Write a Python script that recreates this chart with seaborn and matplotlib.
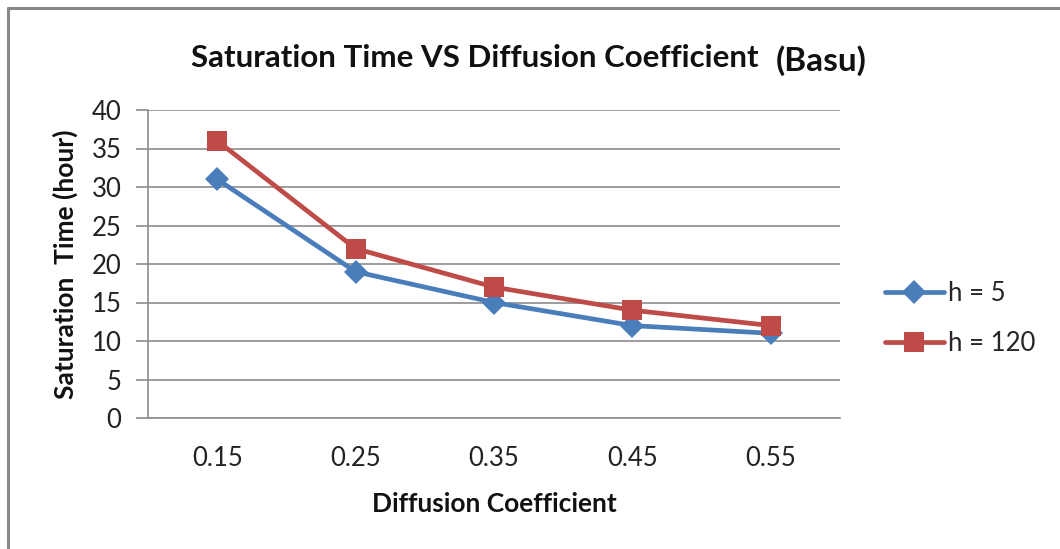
import matplotlib
matplotlib.use("Agg")
import matplotlib.pyplot as plt
import seaborn as sns
import pandas as pd
from matplotlib.lines import Line2D

categories = ["0.15", "0.25", "0.35", "0.45", "0.55"]
h5 = [31, 19, 15, 12, 11]
h120 = [36, 22, 17, 14, 12]
series_names = ["h = 5", "h = 120"]
y_ticks = [0, 5, 10, 15, 20, 25, 30, 35, 40]

sns.set_theme(style="white")
plt.rcParams['font.family'] = ['Lato', 'DejaVu Sans']

df = pd.DataFrame({
    "pos": list(range(len(categories))) * 2,
    "value": h5 + h120,
    "series": [series_names[0]] * len(h5) + [series_names[1]] * len(h120),
})

fig = plt.figure(figsize=(10.6, 5.49), dpi=100)
ax = fig.add_axes([148/1060, 1-418/549, (840-148)/1060, (418-110)/549])

colors = {"h = 5": "#4A7EBB", "h = 120": "#BE4B48"}
markers = {"h = 5": "D", "h = 120": "s"}
sizes = {"h = 5": 12, "h = 120": 15}

for name in series_names:
    sub = df[df.series == name]
    sns.lineplot(data=sub, x="pos", y="value", ax=ax, color=colors[name],
                 marker=markers[name], markersize=sizes[name], markeredgewidth=0,
                 linewidth=3.4, label=name, legend=False, zorder=3)

ax.set_xlim(-0.5, len(categories) - 0.5)
ax.set_ylim(0, 40)
ax.set_yticks(y_ticks)
ax.set_xticks(range(len(categories)))
ax.set_xticklabels(categories)
ax.yaxis.grid(True, color="#8c8c8c", linewidth=1.2)
ax.xaxis.grid(False)
for s in ["top", "right"]:
    ax.spines[s].set_visible(False)
for s in ["left", "bottom"]:
    ax.spines[s].set_color("#8c8c8c")
    ax.spines[s].set_linewidth(1.2)
ax.tick_params(axis="y", which="major", left=True, length=9, width=1.2, color="#8c8c8c",
               labelsize=18.5, pad=10, labelcolor="#222222")
ax.tick_params(axis="x", which="major", bottom=False, labelsize=18.5, pad=14, labelcolor="#222222")

ax.set_xlabel("Diffusion Coefficient", fontsize=19, fontweight="bold", labelpad=15, color="#111111")
ax.set_ylabel("Saturation  Time (hour)", fontsize=19, fontweight="bold", labelpad=10, color="#111111")

fig.text(0.448, 0.894, "Saturation Time VS Diffusion Coefficient", ha="center", va="center",
         fontsize=22.5, fontweight="bold", color="#111111")
fig.text(0.775, 0.889, "(Basu)", ha="center", va="center",
         fontsize=24, fontweight="bold", color="#111111")

handles = [Line2D([0], [0], color=colors[n], marker=markers[n], markersize=sizes[n],
                  markeredgewidth=0, linewidth=3.4) for n in series_names]
leg = fig.legend(handles, series_names, loc="center left", bbox_to_anchor=(0.813, 0.42),
                 frameon=False, fontsize=18.5, handlelength=2.3, labelspacing=0.95,
                 handletextpad=0.15)

# outer frame (top and left edges visible)
fig.add_artist(Line2D([8/1060, 8/1060], [0, 1-8/549], transform=fig.transFigure,
                      color="#888888", linewidth=2.2))
fig.add_artist(Line2D([8/1060, 1], [1-8/549, 1-8/549], transform=fig.transFigure,
                      color="#888888", linewidth=2.2))

fig.savefig("out.png", dpi=100)
